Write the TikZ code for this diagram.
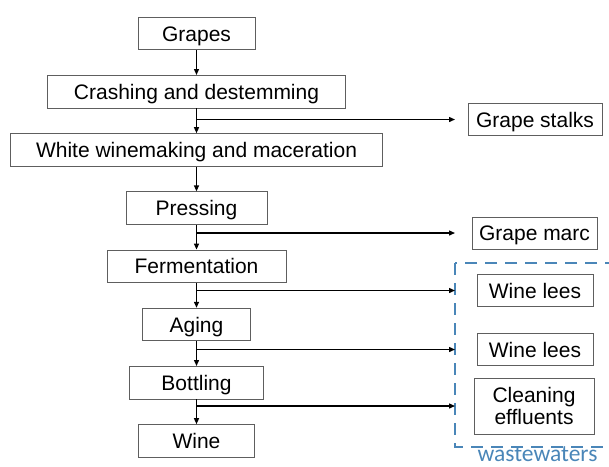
\documentclass[tikz,border=0pt]{standalone}
\usepackage{fontspec}
\setmainfont{Liberation Sans}
\newfontfamily\wwfont{Carlito}
\usetikzlibrary{arrows.meta,positioning}
\definecolor{WineGray}{HTML}{5E5E5E}
\definecolor{WineBlue}{HTML}{4A86B8}
\begin{document}
\begin{tikzpicture}[x=1pt,y=-1pt,
    frame/.style={draw=WineGray,line width=0.9pt,inner sep=0pt,font=\fontsize{21}{22}\selectfont},
    box/.style={frame,minimum height=32.5pt,text height=15pt,text depth=0pt},
    arr/.style={-{Triangle[length=6pt,width=5pt]},line width=1.3pt},
    ww/.style={draw=WineBlue,line width=2.6pt,dash pattern=on 12pt off 8pt},
    node distance=24.8pt
  ]
    \useasboundingbox (0,0) rectangle (609,466);
    \node[box,minimum width=117pt] (grapes) at (196.5,33.5) {Grapes};
    \node[box,minimum width=298pt,below=of grapes] (crash) {Crashing and destemming};
    \node[box,minimum width=372pt,below=of crash] (white) {White winemaking and maceration};
    \node[box,minimum width=141pt,below=of white] (press) {Pressing};
    \node[box,minimum width=179pt,below=of press] (ferm) {Fermentation};
    \node[box,minimum width=108pt,below=of ferm] (aging) {Aging};
    \node[box,minimum width=134pt,below=of aging] (bottle) {Bottling};
    \node[box,minimum width=116pt,below=of bottle] (wine) {Wine};

    \node[box,minimum width=134pt] (stalks) at (535,119.5) {Grape stalks};
    \node[box,minimum width=125pt,minimum height=32pt] (marc) at (534.5,233) {Grape marc};
    \node[box,minimum width=116pt] (lees1) at (535,290.5) {Wine lees};
    \node[box,minimum width=116pt] (lees2) at (535,349.5) {Wine lees};
    \node[frame,minimum width=120pt,minimum height=56pt,align=center] (clean) at (534,406) {Cleaning\\effluents};

    \coordinate (wwnw) at (455,263);
    \coordinate (wwse) at (622,447);
    \draw[ww] (wwnw) rectangle (wwse);
    \node[font=\wwfont\fontsize{23.5}{24}\selectfont,text=WineBlue,anchor=base,inner sep=0pt,text depth=0pt] (wwlabel) at (537.5,461) {wastewaters};

    \foreach \a/\b in {grapes/crash,crash/white,white/press,press/ferm,ferm/aging,aging/bottle,bottle/wine}
      \draw[arr] (\a) -- (\b);
    \foreach \a/\b in {crash/stalks,press/marc,ferm/lees1,aging/lees2,bottle/clean}
      \draw[arr] (\a.south |- \b) -- (wwnw |- \b);
\end{tikzpicture}
\end{document}
